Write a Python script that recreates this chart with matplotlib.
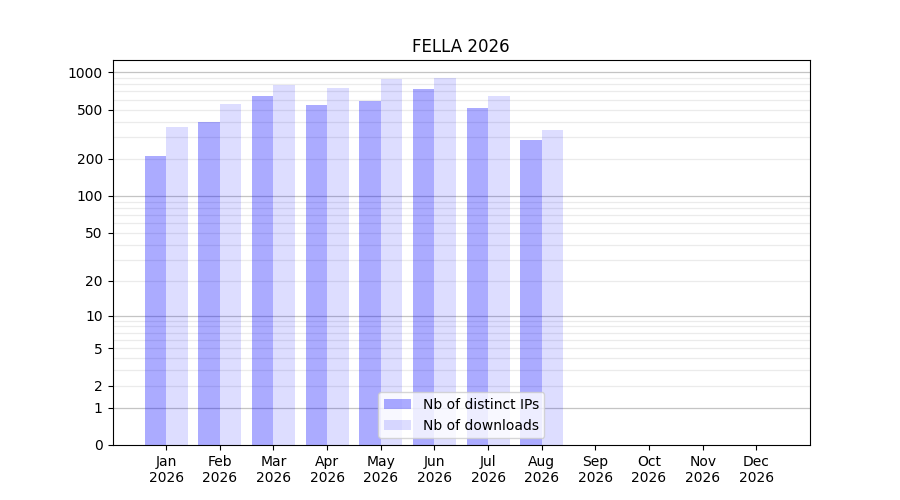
import numpy as np
import matplotlib
matplotlib.use("Agg")
import matplotlib.pyplot as plt

months = ["Jan", "Feb", "Mar", "Apr", "May", "Jun",
          "Jul", "Aug", "Sep", "Oct", "Nov", "Dec"]
year = 2026
distinct_ips = [210, 396, 642, 544, 585, 731, 514, 284, 0, 0, 0, 0]
downloads = [360, 553, 788, 745, 880, 896, 642, 342, 0, 0, 0, 0]
ytick_values = [0, 1, 2, 5, 10, 20, 50, 100, 200, 500, 1000]


# y axis is log10(1 + x), so zero can be shown
def fwd(v):
    return np.log10(1 + np.clip(v, 0, None))


def inv(v):
    return 10 ** v - 1


fig, ax = plt.subplots(figsize=(9, 5))
x = np.arange(len(months))
width = 0.4

ax.bar(x - width / 2, distinct_ips, width, color="blue", alpha=0.33,
       label="Nb of distinct IPs")
ax.bar(x + width / 2, downloads, width, color="blue", alpha=0.133,
       label="Nb of downloads")

ax.set_yscale("function", functions=(fwd, inv))
ax.set_ylim(0, max(downloads) * 1.4)
ax.set_yticks(ytick_values)
ax.set_yticklabels([str(v) for v in ytick_values])
ax.minorticks_off()

# grid under the bars: decades darker, in-between steps light
for dec in [1, 10, 100, 1000]:
    ax.axhline(dec, color="#c4c4c4", linewidth=0.9, zorder=0.5)
    if dec < 1000:
        for k in range(2, 10):
            ax.axhline(dec * k, color="#ebebeb", linewidth=0.9, zorder=0.5)

ax.set_xticks(x)
ax.set_xticklabels([f"{m}\n{year}" for m in months])
ax.set_xlim(-1, 12)
ax.set_title(f"FELLA {year}")
ax.legend(loc="lower center")

plt.savefig("out.png")
